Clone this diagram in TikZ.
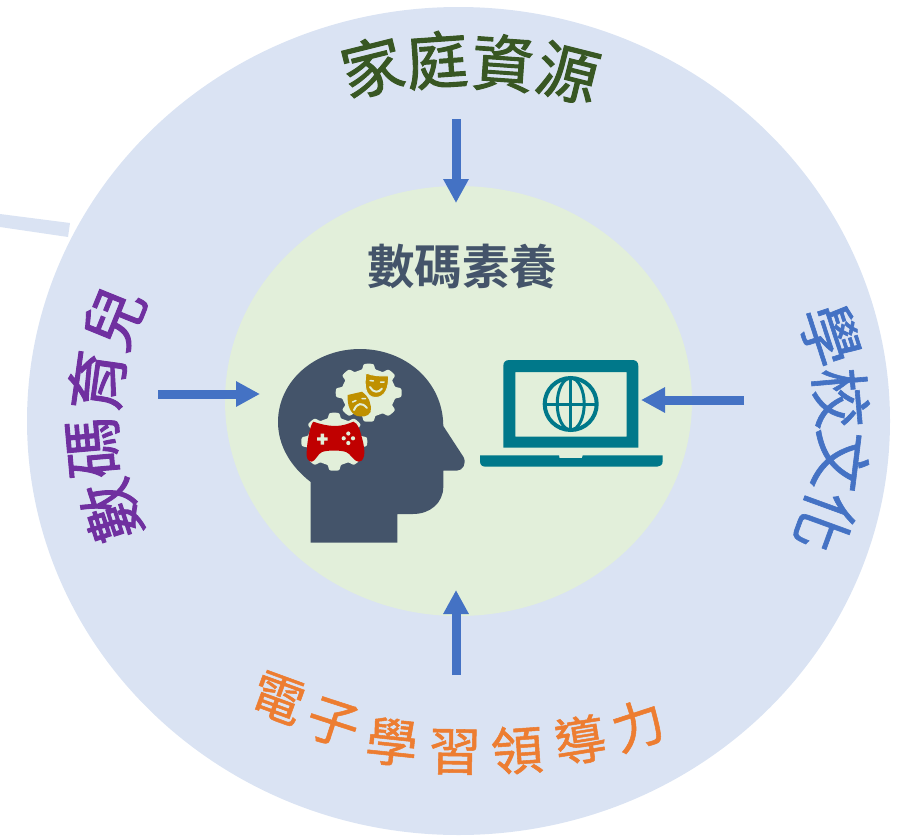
\documentclass[tikz,border=0pt]{standalone}
\usepackage{fontspec}
\usetikzlibrary{arrows.meta}
\newfontfamily\cjk[FakeBold=1.5]{Noto Sans CJK TC}
\newfontfamily\cjkm[FakeBold=1]{Noto Sans CJK TC}
\newfontfamily\cjkb{Noto Sans CJK TC Bold}
\definecolor{outerc}{HTML}{DAE3F3}
\definecolor{innerc}{HTML}{E2EFDA}
\definecolor{slatec}{HTML}{44546A}
\definecolor{bluec}{HTML}{4472C4}
\definecolor{greenc}{HTML}{385723}
\definecolor{purplec}{HTML}{7030A0}
\definecolor{orangec}{HTML}{ED7D31}
\definecolor{goldc}{HTML}{BF9000}
\definecolor{redc}{HTML}{C00000}
\definecolor{tealc}{HTML}{00788A}
\tikzset{
  ch/.style={inner sep=0pt,outer sep=0pt,anchor=center},
  green ch/.style={ch,text=greenc,font=\cjk\fontsize{62}{62}\selectfont},
  purple ch/.style={ch,text=purplec,font=\cjk\fontsize{61}{61}\selectfont},
  blue ch/.style={ch,text=bluec,font=\cjkm\fontsize{61}{61}\selectfont},
  orange ch/.style={ch,text=orangec,font=\cjkm\fontsize{52}{52}\selectfont},
  flow/.style={draw=bluec,line width=9pt,-{Triangle[length=24pt,width=24pt]},shorten >=0pt},
}
\begin{document}
\begin{tikzpicture}[x=1pt,y=-1pt]
\useasboundingbox (0,0) rectangle (904,835);
% discs
\fill[outerc] (458.5,421) ellipse [x radius=431.5,y radius=414];
\fill[outerc] (0,214) -- (70,223) -- (68,237) -- (0,227) -- cycle;
\fill[innerc] (458.5,401) ellipse [x radius=233.5,y radius=215];
% head
\fill[slatec] (310.7,482) .. controls (290,466) and (278,445) .. (278,422)
  .. controls (278,381) and (315,349) .. (360,349)
  .. controls (405,349) and (443,381) .. (443.3,426)
  -- (463.3,456.7) .. controls (467,463) and (463,470.7) .. (456.7,470.7)
  -- (443.3,470.7) -- (443.3,486.7) .. controls (443.3,503) and (430,514) .. (413,514)
  -- (397.3,514) -- (397.3,542.7) -- (310.7,542.7) -- cycle;
% gears
\fill[innerc] plot[domain=0:360,samples=241] ({368.7+(30+3*tanh(3*cos(8*\x)))*cos(\x)},{392.7+0.88*(30+3*tanh(3*cos(8*\x)))*sin(\x)}) -- cycle;
\fill[innerc] plot[domain=0:360,samples=241] ({334.3+(30+3*tanh(3*cos(8*\x)))*cos(\x)},{441.7+0.88*(30+3*tanh(3*cos(8*\x)))*sin(\x)}) -- cycle;
% sad mask
\fill[goldc] (347.7,395) -- (362,391.7) .. controls (369,397) and (372,404) .. (370.5,412)
  .. controls (368,417) and (362,417) .. (357,416) .. controls (350,413) and (347,405) .. (347.7,395) -- cycle;
\draw[innerc,line width=1.5pt,line cap=round] (352.5,402) -- (356,400.5) (362,398.5) -- (365.5,398.5);
\draw[innerc,line width=2pt,line cap=round] (354,410) .. controls (357,403) and (362,402) .. (367,408);
% happy mask
\fill[goldc,draw=innerc,line width=1pt] (366,373) .. controls (373,376) and (381,376) .. (388.5,376)
  .. controls (389,386) and (386,398) .. (375,397.5) .. controls (365,397) and (364,385) .. (366,373) -- cycle;
\draw[innerc,line width=1.5pt,line cap=round] (370,380.5) -- (373.5,381) (380.5,382) -- (384,382);
\draw[innerc,line width=2pt,line cap=round] (370,387) .. controls (373,393) and (379,393) .. (382,388.5);
% controller
\fill[redc] (313.3,421.7) .. controls (320,424) and (328,426) .. (335,426)
  .. controls (342,426) and (348,424) .. (353.3,421.7)
  .. controls (358,423) and (360,430) .. (362,438) .. controls (364,445) and (365,452) .. (364,456)
  .. controls (363,461) and (360,461.7) .. (358.3,461.7)
  .. controls (354,461.7) and (350,453) .. (346,452) .. controls (340,450) and (328,450) .. (322,452)
  .. controls (318,453.5) and (315,461.7) .. (311.7,461.7)
  .. controls (308,461.7) and (306,458) .. (306.7,452)
  .. controls (307,442) and (310,425) .. (313.3,421.7) -- cycle;
\fill[innerc] (317,437.3) rectangle (327.7,440.7) (320.7,433.5) rectangle (324,444.5);
\fill[innerc] (348.3,433.5) circle (2.1) (348.3,443) circle (2.1) (343.7,438.3) circle (2.1) (353,438.3) circle (2.1);
% laptop
\fill[tealc,even odd rule] (503.3,366) .. controls (503.3,362) and (505.5,360) .. (509.5,360)
  -- (632,360) .. controls (636,360) and (638.3,362) .. (638.3,366) -- (638.3,447.7) -- (503.3,447.7) -- cycle
  (515.3,372) rectangle (626.7,436.7);
\fill[tealc] (480,455.3) -- (559,455.3) -- (559.5,458) -- (582,458) -- (582.7,455.3) -- (662.7,455.3) -- (662.7,461)
  .. controls (662.7,465) and (660,466.7) .. (657,466.7) -- (486,466.7) .. controls (482,466.7) and (480,465) .. (480,461) -- cycle;
\draw[tealc,line width=4pt] (570.7,404) circle (26);
\draw[tealc,line width=3pt] (570.7,404) ellipse [x radius=13.5,y radius=26];
\draw[tealc,line width=3pt] (570.7,378) -- (570.7,430) (544.7,404) -- (596.7,404);
% title
\node[ch,text=slatec,font=\cjkb\fontsize{47.5}{47.5}\selectfont] (title) at (462,267) {數碼素養};
% top label
\node[green ch,rotate=14] (g1) at (372,67) {家};
\node[green ch,rotate=4] (g2) at (437,60) {庭};
\node[green ch,rotate=-4] (g3) at (503,63) {資};
\node[green ch,rotate=-14] (g4) at (568,73) {源};
% left label
\node[purple ch,rotate=108] (p1) at (111,511) {數};
\node[purple ch,rotate=95] (p2) at (94,448) {碼};
\node[purple ch,rotate=82] (p3) at (97,381) {育};
\node[purple ch,rotate=68] (p4) at (114,318) {兒};
% right label
\node[blue ch,rotate=-72] (b1) at (830,335) {學};
\node[blue ch,rotate=-85] (b2) at (841,398) {校};
\node[blue ch,rotate=-97] (b3) at (841,461) {文};
\node[blue ch,rotate=-110] (b4) at (825,522) {化};
% bottom label
\node[orange ch,rotate=-20] (o1) at (278,698) {電};
\node[orange ch,rotate=-18] (o2) at (333,723) {子};
\node[orange ch,rotate=-6] (o3) at (392,742) {學};
\node[orange ch,rotate=-1] (o4) at (455,752) {習};
\node[orange ch,rotate=4] (o5) at (517,750) {領};
\node[orange ch,rotate=9] (o6) at (580,740) {導};
\node[orange ch,rotate=18] (o7) at (638,725) {力};
% arrows
\coordinate (ta) at (456,119); \coordinate (tb) at (456,203);
\coordinate (la) at (158,394); \coordinate (lb) at (260,394);
\coordinate (ra) at (744,400); \coordinate (rb) at (641,400);
\coordinate (ba) at (456,675); \coordinate (bb) at (456,590);
\draw[flow] (ta) -- (tb);
\draw[flow] (la) -- (lb);
\draw[flow] (ra) -- (rb);
\draw[flow] (ba) -- (bb);
\end{tikzpicture}
\end{document}
